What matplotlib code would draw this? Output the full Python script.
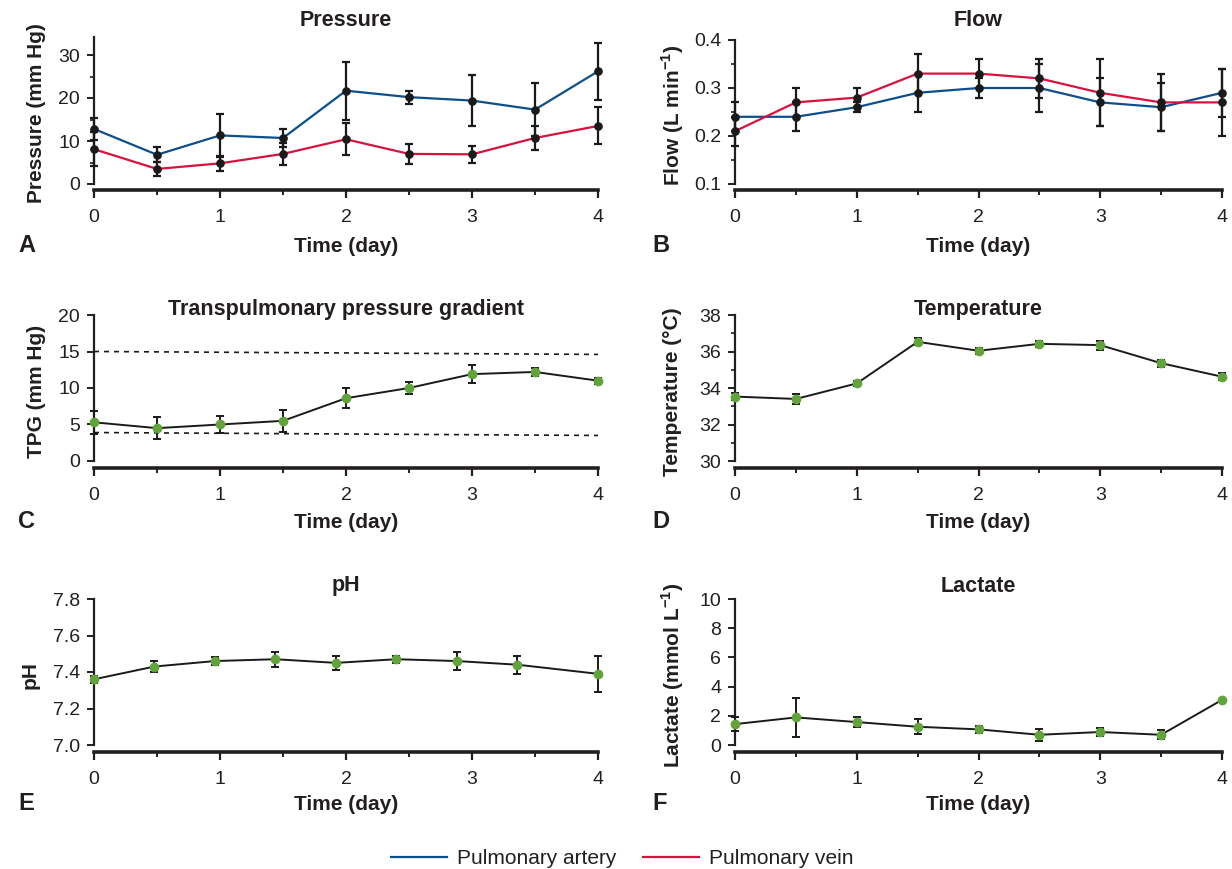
import matplotlib
matplotlib.use("Agg")
import matplotlib.pyplot as plt
from matplotlib.ticker import MultipleLocator
from matplotlib.lines import Line2D

plt.rcParams['font.family'] = ['Liberation Sans', 'DejaVu Sans']
plt.rcParams['mathtext.fontset'] = 'custom'
plt.rcParams['mathtext.rm'] = 'Liberation Sans'
plt.rcParams['mathtext.bf'] = 'Liberation Sans:bold'

# ---------------- data ----------------
days = [0, 0.5, 1, 1.5, 2, 2.5, 3, 3.5, 4]

pa_pressure = [12.8, 6.8, 11.3, 10.7, 21.7, 20.2, 19.4, 17.3, 26.2]
pa_pressure_err = [2.5, 1.7, 5.0, 2.1, 6.7, 1.5, 6.0, 6.2, 6.6]
pv_pressure = [8.1, 3.5, 4.8, 7.0, 10.4, 7.0, 6.9, 10.7, 13.5]
pv_pressure_err = [4.0, 1.6, 1.8, 2.5, 3.7, 2.3, 1.9, 2.8, 4.3]

pa_flow = [0.24, 0.24, 0.26, 0.29, 0.30, 0.30, 0.27, 0.26, 0.29]
pa_flow_err = [0.03, 0.03, 0.01, 0.04, 0.02, 0.05, 0.05, 0.05, 0.05]
pv_flow = [0.21, 0.27, 0.28, 0.33, 0.33, 0.32, 0.29, 0.27, 0.27]
pv_flow_err = [0.03, 0.03, 0.02, 0.04, 0.03, 0.04, 0.07, 0.06, 0.07]

tpg = [5.3, 4.5, 5.0, 5.5, 8.6, 10.0, 11.9, 12.2, 11.0]
tpg_err = [1.6, 1.5, 1.2, 1.5, 1.4, 0.85, 1.2, 0.5, 0.4]
tpg_ref_x = [0, 4]
tpg_upper = [15.0, 14.6]
tpg_lower = [3.9, 3.5]

temperature = [33.53, 33.4, 34.25, 36.53, 36.04, 36.42, 36.35, 35.36, 34.62]
temperature_err = [0.2, 0.25, 0.15, 0.2, 0.15, 0.15, 0.25, 0.2, 0.2]

ph_days = [0, 0.48, 0.96, 1.44, 1.92, 2.4, 2.88, 3.36, 4.0]
ph = [7.36, 7.43, 7.46, 7.47, 7.45, 7.47, 7.46, 7.44, 7.39]
ph_err = [0.02, 0.03, 0.02, 0.04, 0.04, 0.02, 0.05, 0.05, 0.10]

lactate = [1.43, 1.89, 1.57, 1.25, 1.07, 0.70, 0.89, 0.70, 3.09]
lactate_err = [0.5, 1.35, 0.35, 0.5, 0.25, 0.4, 0.3, 0.3, 0.0]

x_ticks = [0, 1, 2, 3, 4]

BLUE = '#0d4f8b'
RED = '#d7123f'
GREEN = '#62a33c'
TXT = '#231f20'

TICK_FS = 14
LAB_FS = 15
TITLE_FS = 15.5

W, H = 1232, 869
fig = plt.figure(figsize=(W / 100, H / 100), dpi=100)


def make_ax(left, right, v0, p0, v1, p1, pb, pt, yticks, yminor=None):
    ax = fig.add_axes([left / W, 1 - pb / H, (right - left) / W, (pb - pt) / H])
    scale = (p0 - p1) / (v1 - v0)
    ax.set_ylim(v0 - (pb - p0) / scale, v1 + (p1 - pt) / scale)
    ax.set_xlim(0, 4)
    for s in ['top', 'right']:
        ax.spines[s].set_visible(False)
    ax.spines['left'].set_bounds(v0, v1 + (p1 - pt) / scale)
    ax.spines['left'].set_linewidth(1.6)
    ax.spines['bottom'].set_linewidth(2.6)
    ax.spines['left'].set_color(TXT)
    ax.spines['bottom'].set_color(TXT)
    ax.set_xticks(x_ticks)
    ax.xaxis.set_minor_locator(MultipleLocator(0.5))
    ax.set_yticks(yticks)
    if yminor:
        ax.yaxis.set_minor_locator(MultipleLocator(yminor))
    ax.tick_params(axis='x', which='major', length=6, width=1.6, pad=8,
                   labelsize=TICK_FS, colors=TXT)
    ax.tick_params(axis='x', which='minor', length=3.5, width=1.4)
    ax.tick_params(axis='y', which='major', length=5, width=1.4, pad=5,
                   labelsize=TICK_FS, colors=TXT)
    ax.tick_params(axis='y', which='minor', length=3, width=1.2)
    ax.tick_params(which='both', color=TXT)
    ax.patch.set_alpha(0)
    return ax


def decorate(ax, title, ylabel, letter, left, right, title_y, ylab_x, xlab_y, letter_x):
    cx = (left + right) / 2
    fig.text(cx / W, 1 - title_y / H, title, ha='center', va='center',
             fontsize=TITLE_FS, fontweight='bold', color=TXT)
    ptop = ax.get_position()
    fig.text(ylab_x / W, (ptop.y0 + ptop.y1) / 2, ylabel, ha='center', va='center',
             rotation=90, fontsize=LAB_FS, fontweight='bold', color=TXT)
    fig.text(cx / W, 1 - xlab_y / H, 'Time (day)', ha='center', va='center',
             fontsize=LAB_FS, fontweight='bold', color=TXT)
    fig.text(letter_x / W, 1 - (xlab_y - 1) / H, letter, ha='left', va='center',
             fontsize=17, fontweight='bold', color=TXT)


def two_series(ax, a, ae, v, ve):
    for vals, errs, col in [(a, ae, BLUE), (v, ve, RED)]:
        ax.errorbar(days, vals, yerr=errs, fmt='none', ecolor='#1a1a1a',
                    elinewidth=1.6, capsize=3, capthick=1.6, clip_on=False, zorder=3)
        ax.plot(days, vals, color=col, lw=1.6, clip_on=False, zorder=4)
        ax.plot(days, vals, 'o', color='#1a1a1a', ms=5.2, clip_on=False, zorder=5)


def one_series(ax, xs, vals, errs):
    ax.errorbar(xs, vals, yerr=errs, fmt='none', ecolor='#1a1a1a',
                elinewidth=1.4, capsize=3, capthick=1.4, clip_on=False, zorder=3)
    ax.plot(xs, vals, color='#1a1a1a', lw=1.4, clip_on=False, zorder=4)
    ax.plot(xs, vals, 'o', color=GREEN, ms=6, mec=GREEN, clip_on=False, zorder=5)


L1, R1 = 94, 598
L2, R2 = 735, 1222

# A Pressure
axA = make_ax(L1, R1, 0, 184, 30, 55, 190, 37, [0, 10, 20, 30], yminor=5)
two_series(axA, pa_pressure, pa_pressure_err, pv_pressure, pv_pressure_err)
decorate(axA, 'Pressure', 'Pressure (mm Hg)', 'A', L1, R1, 20, 37, 247, 18)

# B Flow
axB = make_ax(L2, R2, 0.1, 184, 0.4, 40, 190, 40, [0.1, 0.2, 0.3, 0.4], yminor=0.05)
two_series(axB, pa_flow, pa_flow_err, pv_flow, pv_flow_err)
decorate(axB, 'Flow', r'Flow (L min$^{\mathbf{-1}}$)', 'B', L2, R2, 20, 673, 247, 652)

# C TPG
axC = make_ax(L1, R1, 0, 461, 20, 315, 468, 315, [0, 5, 10, 15, 20])
axC.plot(tpg_ref_x, tpg_upper, ls=(0, (3, 3)), color='#1a1a1a', lw=1.2)
axC.plot(tpg_ref_x, tpg_lower, ls=(0, (3, 3)), color='#1a1a1a', lw=1.2)
one_series(axC, days, tpg, tpg_err)
decorate(axC, 'Transpulmonary pressure gradient', 'TPG (mm Hg)', 'C', L1, R1, 310, 37, 523, 18)

# D Temperature
axD = make_ax(L2, R2, 30, 461, 38, 315, 468, 315, [30, 32, 34, 36, 38], yminor=1)
one_series(axD, days, temperature, temperature_err)
decorate(axD, 'Temperature', 'Temperature (°C)', 'D', L2, R2, 310, 673, 523, 652)

# E pH
axE = make_ax(L1, R1, 7.0, 745, 7.8, 599, 752, 599, [7.0, 7.2, 7.4, 7.6, 7.8])
axE.set_yticklabels(['7.0', '7.2', '7.4', '7.6', '7.8'])
one_series(axE, ph_days, ph, ph_err)
decorate(axE, 'pH', 'pH', 'E', L1, R1, 586, 30, 805, 18)

# F Lactate
axF = make_ax(L2, R2, 0, 745, 10, 599, 752, 599, [0, 2, 4, 6, 8, 10])
one_series(axF, days, lactate, lactate_err)
decorate(axF, 'Lactate', r'Lactate (mmol L$^{\mathbf{-1}}$)', 'F', L2, R2, 586, 673, 805, 652)

# Legend
handles = [Line2D([], [], color=BLUE, lw=1.6), Line2D([], [], color=RED, lw=1.6)]
fig.legend(handles, ['Pulmonary artery', 'Pulmonary vein'], loc='center',
           bbox_to_anchor=(622 / W, 1 - 859 / H), ncol=2, frameon=False,
           fontsize=15, handlelength=2.7, handletextpad=0.45, columnspacing=1.3,
           labelcolor=TXT)

fig.savefig('out.png', dpi=100)
